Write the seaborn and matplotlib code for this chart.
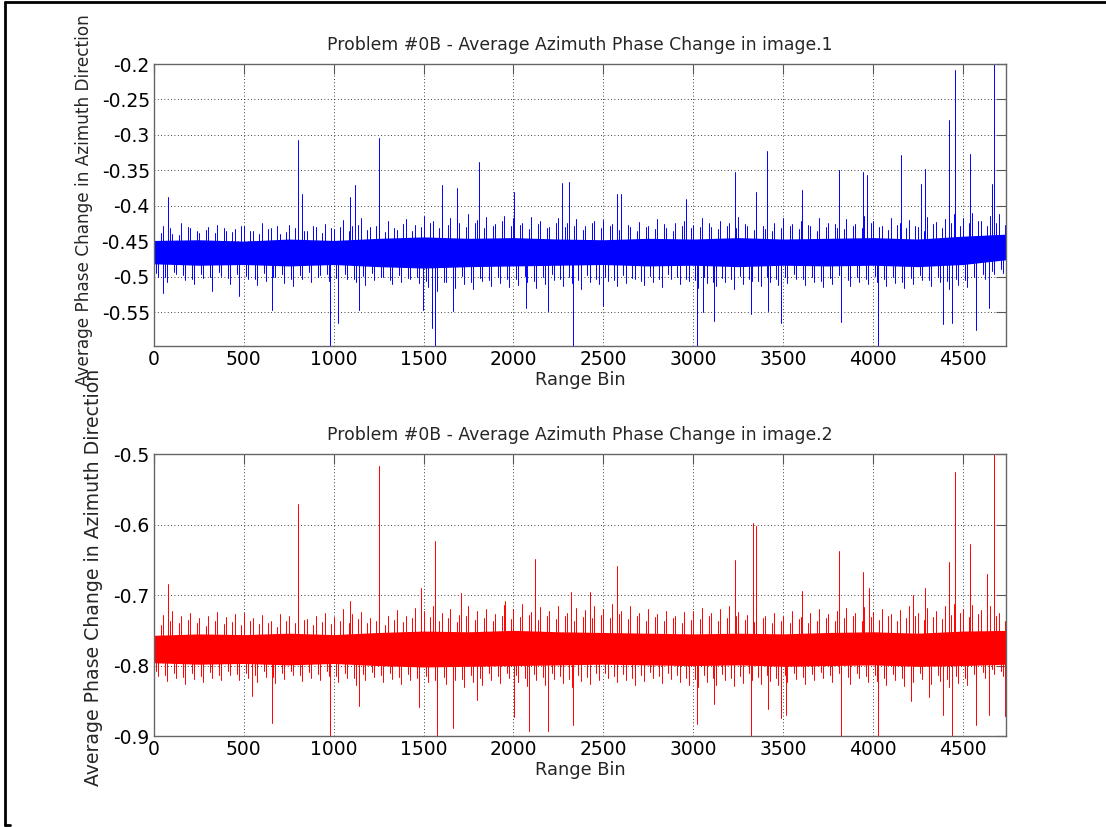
import numpy as np
import pandas as pd
import matplotlib
matplotlib.use("Agg")
import matplotlib.pyplot as plt
import seaborn as sns

# ---- data ----
# outer noise excursions, one value every 50 range bins (0 .. 4700)
seg_step = 50
hi1 = [-0.435, -0.428, -0.440, -0.425, -0.432, -0.438, -0.430, -0.427, -0.436, -0.433,
       -0.429, -0.436, -0.424, -0.431, -0.440, -0.427, -0.422, -0.435, -0.430, -0.426,
       -0.433, -0.420, -0.428, -0.418, -0.430, -0.425, -0.421, -0.434, -0.419, -0.427,
       -0.415, -0.422, -0.410, -0.418, -0.425, -0.412, -0.420, -0.416, -0.426, -0.414,
       -0.418, -0.425, -0.416, -0.422, -0.430, -0.417, -0.424, -0.419, -0.428, -0.421,
       -0.420, -0.426, -0.417, -0.430, -0.423, -0.428, -0.419, -0.432, -0.424, -0.421,
       -0.427, -0.418, -0.430, -0.422, -0.425, -0.416, -0.428, -0.420, -0.433, -0.424,
       -0.418, -0.426, -0.421, -0.429, -0.417, -0.424, -0.431, -0.419, -0.426, -0.414,
       -0.422, -0.428, -0.418, -0.425, -0.420, -0.430, -0.416, -0.423, -0.419, -0.412,
       -0.418, -0.410, -0.421, -0.415, -0.412]
lo1 = [-0.500, -0.508, -0.497, -0.505, -0.510, -0.502, -0.507, -0.499, -0.511, -0.504,
       -0.503, -0.512, -0.506, -0.500, -0.509, -0.514, -0.504, -0.508, -0.498, -0.506,
       -0.510, -0.503, -0.508, -0.512, -0.505, -0.500, -0.511, -0.507, -0.503, -0.509,
       -0.515, -0.520, -0.508, -0.516, -0.511, -0.518, -0.506, -0.513, -0.509, -0.515,
       -0.512, -0.507, -0.516, -0.510, -0.505, -0.514, -0.509, -0.518, -0.507, -0.511,
       -0.506, -0.513, -0.509, -0.504, -0.512, -0.508, -0.515, -0.503, -0.510, -0.506,
       -0.516, -0.509, -0.513, -0.507, -0.518, -0.511, -0.506, -0.514, -0.508, -0.512,
       -0.509, -0.504, -0.512, -0.507, -0.515, -0.510, -0.505, -0.513, -0.508, -0.511,
       -0.507, -0.513, -0.509, -0.516, -0.510, -0.505, -0.514, -0.508, -0.518, -0.512,
       -0.515, -0.508, -0.503, -0.497, -0.495]
# smaller excursions in between (offset by a quarter segment)
hi1b = [-0.438, -0.432, -0.441, -0.430, -0.436, -0.434, -0.439, -0.431, -0.437, -0.429,
        -0.435, -0.440, -0.433, -0.428, -0.437, -0.431, -0.436, -0.429, -0.438, -0.432,
        -0.430, -0.436, -0.427, -0.434, -0.429, -0.437, -0.431, -0.426, -0.435, -0.430,
        -0.424, -0.431, -0.427, -0.423, -0.430, -0.425, -0.432, -0.428, -0.422, -0.429,
        -0.427, -0.433, -0.426, -0.431, -0.424, -0.430, -0.428, -0.434, -0.425, -0.432,
        -0.429, -0.434, -0.427, -0.436, -0.430, -0.433, -0.426, -0.435, -0.429, -0.432,
        -0.430, -0.425, -0.433, -0.428, -0.431, -0.426, -0.434, -0.429, -0.436, -0.431,
        -0.428, -0.433, -0.427, -0.435, -0.430, -0.426, -0.433, -0.429, -0.431, -0.425,
        -0.430, -0.434, -0.427, -0.432, -0.428, -0.435, -0.426, -0.431, -0.424, -0.428,
        -0.425, -0.422, -0.429, -0.424, -0.427]
lo1b = [-0.495, -0.501, -0.493, -0.498, -0.503, -0.496, -0.500, -0.494, -0.502, -0.497,
        -0.499, -0.504, -0.495, -0.501, -0.497, -0.503, -0.498, -0.494, -0.500, -0.496,
        -0.502, -0.497, -0.503, -0.499, -0.495, -0.501, -0.505, -0.498, -0.502, -0.500,
        -0.506, -0.501, -0.508, -0.503, -0.499, -0.507, -0.502, -0.505, -0.500, -0.504,
        -0.503, -0.499, -0.506, -0.501, -0.497, -0.504, -0.500, -0.505, -0.498, -0.503,
        -0.500, -0.505, -0.498, -0.502, -0.506, -0.499, -0.504, -0.497, -0.501, -0.503,
        -0.505, -0.500, -0.507, -0.502, -0.504, -0.499, -0.503, -0.506, -0.500, -0.504,
        -0.501, -0.497, -0.504, -0.500, -0.506, -0.502, -0.498, -0.505, -0.501, -0.503,
        -0.499, -0.504, -0.501, -0.507, -0.502, -0.498, -0.505, -0.500, -0.506, -0.503,
        -0.505, -0.500, -0.496, -0.492, -0.490]
hi2 = [-0.735, -0.728, -0.722, -0.730, -0.726, -0.733, -0.729, -0.724, -0.731, -0.727,
       -0.725, -0.732, -0.728, -0.736, -0.727, -0.730, -0.722, -0.734, -0.729, -0.726,
       -0.731, -0.720, -0.727, -0.724, -0.733, -0.726, -0.729, -0.721, -0.730, -0.718,
       -0.722, -0.715, -0.726, -0.720, -0.728, -0.716, -0.723, -0.719, -0.727, -0.714,
       -0.720, -0.712, -0.724, -0.717, -0.722, -0.715, -0.726, -0.718, -0.721, -0.716,
       -0.719, -0.713, -0.722, -0.716, -0.725, -0.719, -0.727, -0.722, -0.729, -0.724,
       -0.723, -0.718, -0.726, -0.720, -0.716, -0.724, -0.728, -0.721, -0.730, -0.725,
       -0.729, -0.723, -0.731, -0.726, -0.720, -0.727, -0.722, -0.718, -0.725, -0.717,
       -0.724, -0.719, -0.727, -0.721, -0.716, -0.725, -0.718, -0.722, -0.715, -0.712,
       -0.719, -0.714, -0.721, -0.716, -0.726]
lo2 = [-0.815, -0.822, -0.818, -0.826, -0.819, -0.824, -0.817, -0.821, -0.813, -0.820,
       -0.818, -0.823, -0.816, -0.825, -0.819, -0.814, -0.822, -0.817, -0.821, -0.815,
       -0.824, -0.818, -0.827, -0.820, -0.816, -0.823, -0.819, -0.826, -0.821, -0.829,
       -0.824, -0.832, -0.826, -0.821, -0.830, -0.823, -0.828, -0.820, -0.825, -0.818,
       -0.823, -0.829, -0.821, -0.827, -0.819, -0.825, -0.830, -0.822, -0.826, -0.820,
       -0.818, -0.824, -0.820, -0.827, -0.822, -0.817, -0.825, -0.819, -0.823, -0.828,
       -0.830, -0.824, -0.827, -0.821, -0.829, -0.825, -0.820, -0.826, -0.822, -0.828,
       -0.824, -0.819, -0.826, -0.821, -0.817, -0.823, -0.820, -0.826, -0.818, -0.824,
       -0.822, -0.827, -0.821, -0.829, -0.824, -0.819, -0.826, -0.822, -0.830, -0.825,
       -0.828, -0.821, -0.817, -0.812, -0.815]
hi2b = [-0.742, -0.737, -0.740, -0.735, -0.739, -0.744, -0.736, -0.741, -0.738, -0.743,
        -0.737, -0.741, -0.739, -0.745, -0.736, -0.740, -0.735, -0.742, -0.738, -0.741,
        -0.736, -0.739, -0.734, -0.740, -0.737, -0.742, -0.735, -0.738, -0.733, -0.737,
        -0.731, -0.736, -0.733, -0.738, -0.730, -0.735, -0.732, -0.737, -0.729, -0.734,
        -0.731, -0.728, -0.735, -0.730, -0.734, -0.729, -0.736, -0.731, -0.733, -0.728,
        -0.732, -0.727, -0.734, -0.730, -0.736, -0.731, -0.737, -0.733, -0.739, -0.735,
        -0.734, -0.730, -0.737, -0.732, -0.729, -0.735, -0.738, -0.733, -0.740, -0.736,
        -0.739, -0.734, -0.740, -0.736, -0.732, -0.737, -0.733, -0.730, -0.736, -0.731,
        -0.735, -0.730, -0.737, -0.733, -0.729, -0.735, -0.731, -0.734, -0.728, -0.726,
        -0.731, -0.727, -0.733, -0.729, -0.736]
lo2b = [-0.808, -0.813, -0.810, -0.816, -0.811, -0.815, -0.809, -0.813, -0.807, -0.812,
        -0.810, -0.814, -0.808, -0.816, -0.811, -0.807, -0.813, -0.809, -0.812, -0.808,
        -0.815, -0.810, -0.817, -0.812, -0.809, -0.814, -0.811, -0.816, -0.812, -0.818,
        -0.815, -0.820, -0.816, -0.812, -0.819, -0.814, -0.817, -0.811, -0.815, -0.810,
        -0.814, -0.818, -0.812, -0.816, -0.811, -0.815, -0.819, -0.813, -0.816, -0.811,
        -0.810, -0.815, -0.812, -0.817, -0.813, -0.809, -0.815, -0.811, -0.814, -0.818,
        -0.819, -0.814, -0.817, -0.812, -0.818, -0.815, -0.811, -0.816, -0.813, -0.817,
        -0.814, -0.810, -0.816, -0.812, -0.809, -0.814, -0.811, -0.816, -0.810, -0.815,
        -0.813, -0.817, -0.812, -0.818, -0.814, -0.810, -0.816, -0.813, -0.819, -0.815,
        -0.817, -0.812, -0.809, -0.805, -0.808]

# dense core of the noise band, one value every 250 bins (0 .. 4750)
core_step = 250
core_hi1 = [-0.449, -0.448, -0.450, -0.447, -0.449, -0.446, -0.444, -0.446, -0.445, -0.447,
            -0.448, -0.446, -0.447, -0.445, -0.447, -0.446, -0.445, -0.447, -0.443, -0.440]
core_lo1 = [-0.482, -0.484, -0.483, -0.485, -0.483, -0.486, -0.488, -0.486, -0.485, -0.484,
            -0.483, -0.485, -0.484, -0.486, -0.484, -0.485, -0.484, -0.486, -0.483, -0.476]
core_hi2 = [-0.757, -0.755, -0.756, -0.754, -0.756, -0.753, -0.751, -0.752, -0.750, -0.752,
            -0.753, -0.754, -0.755, -0.754, -0.755, -0.753, -0.752, -0.754, -0.751, -0.750]
core_lo2 = [-0.796, -0.798, -0.797, -0.799, -0.797, -0.800, -0.802, -0.801, -0.800, -0.799,
            -0.798, -0.799, -0.800, -0.799, -0.801, -0.800, -0.799, -0.801, -0.800, -0.798]

# isolated spikes (range bin, value)
spk_x1 = [52, 76, 325, 473, 658, 801, 825, 979, 1022, 1090, 1120, 1142, 1252, 1495, 1545,
          1566, 1603, 1662, 1684, 1810, 2005, 2070, 2191, 2272, 2310, 2330, 2500, 2575, 2601,
          2960, 3023, 3056, 3116, 3235, 3324, 3350, 3409, 3418, 3491, 3604, 3814, 3821, 3944,
          3970, 4031, 4155, 4268, 4290, 4389, 4422, 4442, 4456, 4539, 4576, 4648, 4662, 4673]
spk_y1 = [-0.523, -0.388, -0.520, -0.527, -0.547, -0.307, -0.383, -0.620, -0.566, -0.388,
          -0.371, -0.547, -0.305, -0.547, -0.573, -0.620, -0.371, -0.549, -0.375, -0.339,
          -0.380, -0.545, -0.549, -0.368, -0.366, -0.620, -0.542, -0.383, -0.384, -0.390,
          -0.620, -0.550, -0.563, -0.353, -0.553, -0.380, -0.323, -0.548, -0.565, -0.378,
          -0.349, -0.564, -0.353, -0.356, -0.620, -0.328, -0.370, -0.348, -0.567, -0.279,
          -0.566, -0.209, -0.327, -0.575, -0.545, -0.370, -0.190]
spk_x2 = [76, 543, 658, 801, 979, 1090, 1142, 1252, 1473, 1484, 1562, 1574, 1662, 1710,
          1800, 1951, 2003, 2087, 2122, 2191, 2318, 2330, 2426, 2575, 3023, 3116, 3235, 3324,
          3333, 3350, 3418, 3491, 3517, 3604, 3814, 3821, 3946, 3980, 4031, 4211, 4225, 4290,
          4313, 4392, 4422, 4442, 4456, 4539, 4576, 4637, 4648, 4673, 4736]
spk_y2 = [-0.684, -0.843, -0.881, -0.571, -0.920, -0.709, -0.858, -0.517, -0.859, -0.690,
          -0.623, -0.920, -0.889, -0.697, -0.849, -0.709, -0.873, -0.893, -0.649, -0.893,
          -0.696, -0.885, -0.696, -0.659, -0.883, -0.855, -0.650, -0.920, -0.597, -0.602,
          -0.862, -0.875, -0.870, -0.694, -0.637, -0.920, -0.667, -0.690, -0.920, -0.850,
          -0.700, -0.690, -0.845, -0.870, -0.653, -0.920, -0.525, -0.627, -0.885, -0.670,
          -0.870, -0.480, -0.872]

xticks = [0, 500, 1000, 1500, 2000, 2500, 3000, 3500, 4000, 4500]
yticks1 = [-0.55, -0.5, -0.45, -0.4, -0.35, -0.3, -0.25, -0.2]
ylabels1 = ["-0.55", "-0.5", "-0.45", "-0.4", "-0.35", "-0.3", "-0.25", "-0.2"]
yticks2 = [-0.9, -0.8, -0.7, -0.6, -0.5]
ylabels2 = ["-0.9", "-0.8", "-0.7", "-0.6", "-0.5"]
titles = ["Problem #0B - Average Azimuth Phase Change in image.1",
          "Problem #0B - Average Azimuth Phase Change in image.2"]


def build_strokes(hi, lo, hib, lob, chi, clo, sx, sy):
    # every excursion / spike is a vertical stroke starting in the band core
    mid = [(a + b) / 2 for a, b in zip(chi, clo)]

    def base(x):
        return mid[min(int(round(x / core_step)), len(mid) - 1)]

    pts = []
    for i in range(len(hi)):
        x0 = i * seg_step
        pts += [(x0, hi[i]), (x0 + 12, lob[i]), (x0 + 25, lo[i]), (x0 + 37, hib[i])]
    pts += list(zip(sx, sy))

    rows = []
    for sid, (x, tip) in enumerate(pts):
        rows += [(sid, x, base(x)), (sid, x, tip)]
    return pd.DataFrame(rows, columns=["id", "bin", "val"])


sns.set_style("white")
plt.rcParams["font.family"] = ["DejaVu Sans"]

fig = plt.figure(figsize=(11.06, 8.27), dpi=100)
ax1 = fig.add_axes([0.1392, 0.5816, 0.7704, 0.3410])
ax2 = fig.add_axes([0.1392, 0.1100, 0.7704, 0.3407])

panels = [
    (ax1, (hi1, lo1, hi1b, lo1b, core_hi1, core_lo1, spk_x1, spk_y1), "#0000ff",
     (-0.598, -0.2), yticks1, ylabels1, titles[0], (-0.0716, 0.518), 12.2),
    (ax2, (hi2, lo2, hi2b, lo2b, core_hi2, core_lo2, spk_x2, spk_y2), "#ff0000",
     (-0.9, -0.5), yticks2, ylabels2, titles[1], (-0.060, 0.563), 13.6),
]

for ax, series, col, ylim, yt, ytl, title, ylab_pos, ylab_fs in panels:
    chi, clo = series[4], series[5]
    core_x = [i * core_step for i in range(len(chi))]
    ax.fill_between(core_x, clo, chi, color=col, lw=0)
    strokes = build_strokes(*series)
    sns.lineplot(data=strokes, x="bin", y="val", units="id", estimator=None,
                 sort=False, color=col, lw=0.7, ax=ax)

    ax.set_xlim(0, 4741)
    ax.set_ylim(*ylim)
    ax.set_xticks(xticks)
    ax.set_xticklabels([str(t) for t in xticks])
    ax.set_yticks(yt)
    ax.set_yticklabels(ytl)
    ax.grid(True, color="black", linestyle=(0, (1, 3)), lw=0.6)
    ax.tick_params(direction="in", length=7, width=0.8, top=True, right=True,
                   labelsize=13.5, colors="#555555", labelcolor="black", pad=3)
    for sp in ax.spines.values():
        sp.set_color("#666666")
        sp.set_linewidth(1.0)
    ax.set_title(title, fontsize=12.4, pad=10)
    ax.set_xlabel("Range Bin", fontsize=12.8, labelpad=1)
    ax.set_ylabel("Average Phase Change in Azimuth Direction", fontsize=ylab_fs)
    ax.yaxis.set_label_coords(*ylab_pos)

# frame of the window the chart was cut from
fig.add_artist(plt.Line2D([5 / 1106, 5 / 1106], [1 - 2 / 827, 1 - 825 / 827],
                          transform=fig.transFigure, color="black", lw=2))
fig.add_artist(plt.Line2D([5 / 1106, 1.0], [1 - 2 / 827, 1 - 2 / 827],
                          transform=fig.transFigure, color="black", lw=2))
fig.add_artist(plt.Line2D([5 / 1106, 10 / 1106], [1 - 825 / 827, 1 - 825 / 827],
                          transform=fig.transFigure, color="black", lw=2))

fig.savefig("out.png", dpi=100)
